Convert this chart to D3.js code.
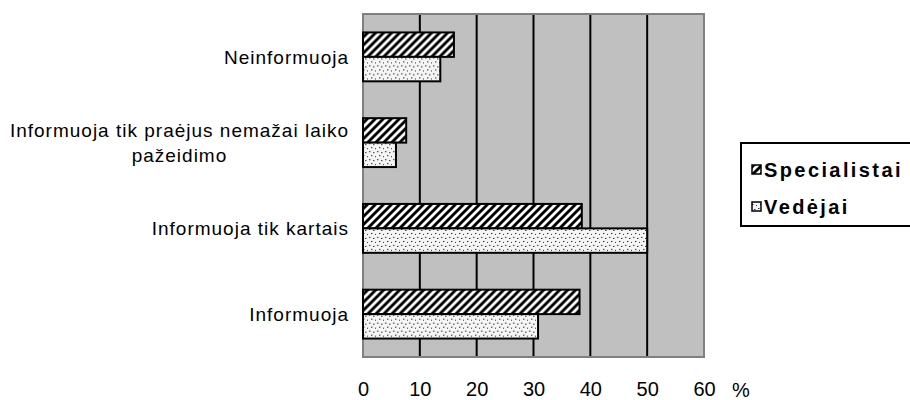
<!DOCTYPE html>
<html>
<head>
<meta charset="utf-8">
<script src="https://cdn.jsdelivr.net/npm/d3@7"></script>
<style>
  body { margin: 0; background: #fff; }
  svg text { font-family: "Liberation Sans", Arial, sans-serif; fill: #000; }
</style>
</head>
<body>
<div id="chart"></div>
<script>
// categories, top to bottom
var categories = ["Neinformuoja", "Informuoja tik praėjus nemažai laiko pažeidimo", "Informuoja tik kartais", "Informuoja"];
var seriesNames = ["Specialistai", "Vedėjai"];
var specialistai = [16, 7.6, 38.5, 38.1];
var vedejai = [13.6, 5.8, 50, 30.8];
var xTicks = [0, 10, 20, 30, 40, 50, 60];

var width = 910, height = 400;
var plot = {left: 363, top: 14, right: 704, bottom: 357};

var svg = d3.select("#chart").append("svg").attr("width", width).attr("height", height);

// fill patterns
var defs = svg.append("defs");
var hatch = defs.append("pattern").attr("id", "hatch")
    .attr("patternUnits", "userSpaceOnUse").attr("width", 8).attr("height", 8);
hatch.append("rect").attr("width", 8).attr("height", 8).attr("fill", "#fff");
hatch.append("path").attr("d", "M-2,2L2,-2M0,8L8,0M6,10L10,6")
    .attr("stroke", "#000").attr("stroke-width", 2.9);

var dots = defs.append("pattern").attr("id", "dots")
    .attr("patternUnits", "userSpaceOnUse").attr("width", 8).attr("height", 8);
dots.append("rect").attr("width", 8).attr("height", 8).attr("fill", "#f4f4f4");
[[1, 1], [5, 2], [3, 5], [7, 6]].forEach(function(p) {
    dots.append("rect").attr("x", p[0]).attr("y", p[1]).attr("width", 1).attr("height", 1).attr("fill", "#333");
    dots.append("rect").attr("x", p[0] + 1).attr("y", p[1]).attr("width", 1).attr("height", 1).attr("fill", "#999");
});
var fills = {"Specialistai": "url(#hatch)", "Vedėjai": "url(#dots)"};

var x = d3.scaleLinear().domain([0, 60]).range([plot.left, plot.right]);
var y = d3.scaleBand().domain(categories).range([plot.top, plot.bottom])
    .paddingInner(0.43).paddingOuter(0.215);
var ySub = d3.scaleBand().domain(seriesNames).range([0, y.bandwidth()]);

// plot background
svg.append("rect")
    .attr("x", plot.left).attr("y", plot.top)
    .attr("width", plot.right - plot.left).attr("height", plot.bottom - plot.top)
    .attr("fill", "#c0c0c0");

// gridlines
svg.append("g").selectAll("line")
    .data(xTicks.filter(function(d) { return d > 0 && d < 60; }))
    .enter().append("line")
    .attr("x1", function(d) { return x(d); }).attr("x2", function(d) { return x(d); })
    .attr("y1", plot.top).attr("y2", plot.bottom)
    .attr("stroke", "#000").attr("stroke-width", 2);

// plot border
svg.append("rect")
    .attr("x", plot.left).attr("y", plot.top)
    .attr("width", plot.right - plot.left).attr("height", plot.bottom - plot.top)
    .attr("fill", "none").attr("stroke", "#808080").attr("stroke-width", 2);

// bars
var rows = categories.map(function(c, i) {
    return {cat: c, values: [{s: "Specialistai", v: specialistai[i]}, {s: "Vedėjai", v: vedejai[i]}]};
});
var groups = svg.append("g").selectAll("g").data(rows).enter().append("g")
    .attr("transform", function(d) { return "translate(0," + y(d.cat) + ")"; });
groups.selectAll("rect").data(function(d) { return d.values; }).enter().append("rect")
    .attr("x", x(0))
    .attr("y", function(d) { return ySub(d.s); })
    .attr("width", function(d) { return x(d.v) - x(0); })
    .attr("height", ySub.bandwidth())
    .attr("fill", function(d) { return fills[d.s]; })
    .attr("stroke", "#000").attr("stroke-width", 2);

// x tick labels
var xAxis = d3.axisBottom(x).tickValues(xTicks).tickSize(0).tickPadding(0);
var gx = svg.append("g").attr("transform", "translate(0,382)").call(xAxis);
gx.select(".domain").remove();
gx.selectAll("text").attr("font-size", 20).attr("dy", "0.71em")
    .style("font-family", "'Liberation Sans', Arial, sans-serif");
svg.append("text").attr("x", 741).attr("y", 397).attr("text-anchor", "middle")
    .attr("font-size", 20).text("%");

// category labels (wrapped, lines centred in a right aligned block)
var labelRight = 349, wrapWidth = 350, lineH = 25;
var catG = svg.append("g");
categories.forEach(function(c) {
    var g = catG.append("g");
    var words = c.split(" "), lines = [], cur = [];
    var probe = g.append("text").attr("font-size", 19).attr("letter-spacing", 1);
    words.forEach(function(w) {
        cur.push(w);
        probe.text(cur.join(" "));
        if (probe.node().getComputedTextLength() > wrapWidth && cur.length > 1) {
            cur.pop();
            lines.push(cur.join(" "));
            cur = [w];
        }
    });
    lines.push(cur.join(" "));
    probe.remove();
    var texts = g.selectAll("text").data(lines).enter().append("text")
        .attr("font-size", 19).attr("letter-spacing", 1)
        .text(function(d) { return d; });
    var maxW = d3.max(texts.nodes(), function(n) { return n.getComputedTextLength(); });
    var cy = y(c) + y.bandwidth() / 2 - (lines.length - 1) * lineH / 2;
    texts.attr("text-anchor", "middle")
        .attr("x", labelRight - maxW / 2)
        .attr("y", function(d, i) { return cy + i * lineH; })
        .attr("dy", "0.35em");
});

// legend
var legend = svg.append("g").attr("transform", "translate(741,143)");
legend.append("rect").attr("width", 175).attr("height", 83)
    .attr("fill", "#fff").attr("stroke", "#000").attr("stroke-width", 2);
var li = legend.selectAll("g.item").data(seriesNames).enter().append("g")
    .attr("class", "item")
    .attr("transform", function(d, i) { return "translate(0," + (27 + i * 37) + ")"; });
li.append("rect").attr("x", 11).attr("y", -5).attr("width", 9).attr("height", 9)
    .attr("fill", function(d) { return fills[d]; })
    .attr("stroke", "#000").attr("stroke-width", 1.5);
li.append("text").attr("x", 23).attr("dy", "0.35em")
    .attr("font-size", 20).attr("font-weight", "bold").attr("letter-spacing", 2.4)
    .text(function(d) { return d; });
</script>
</body>
</html>
